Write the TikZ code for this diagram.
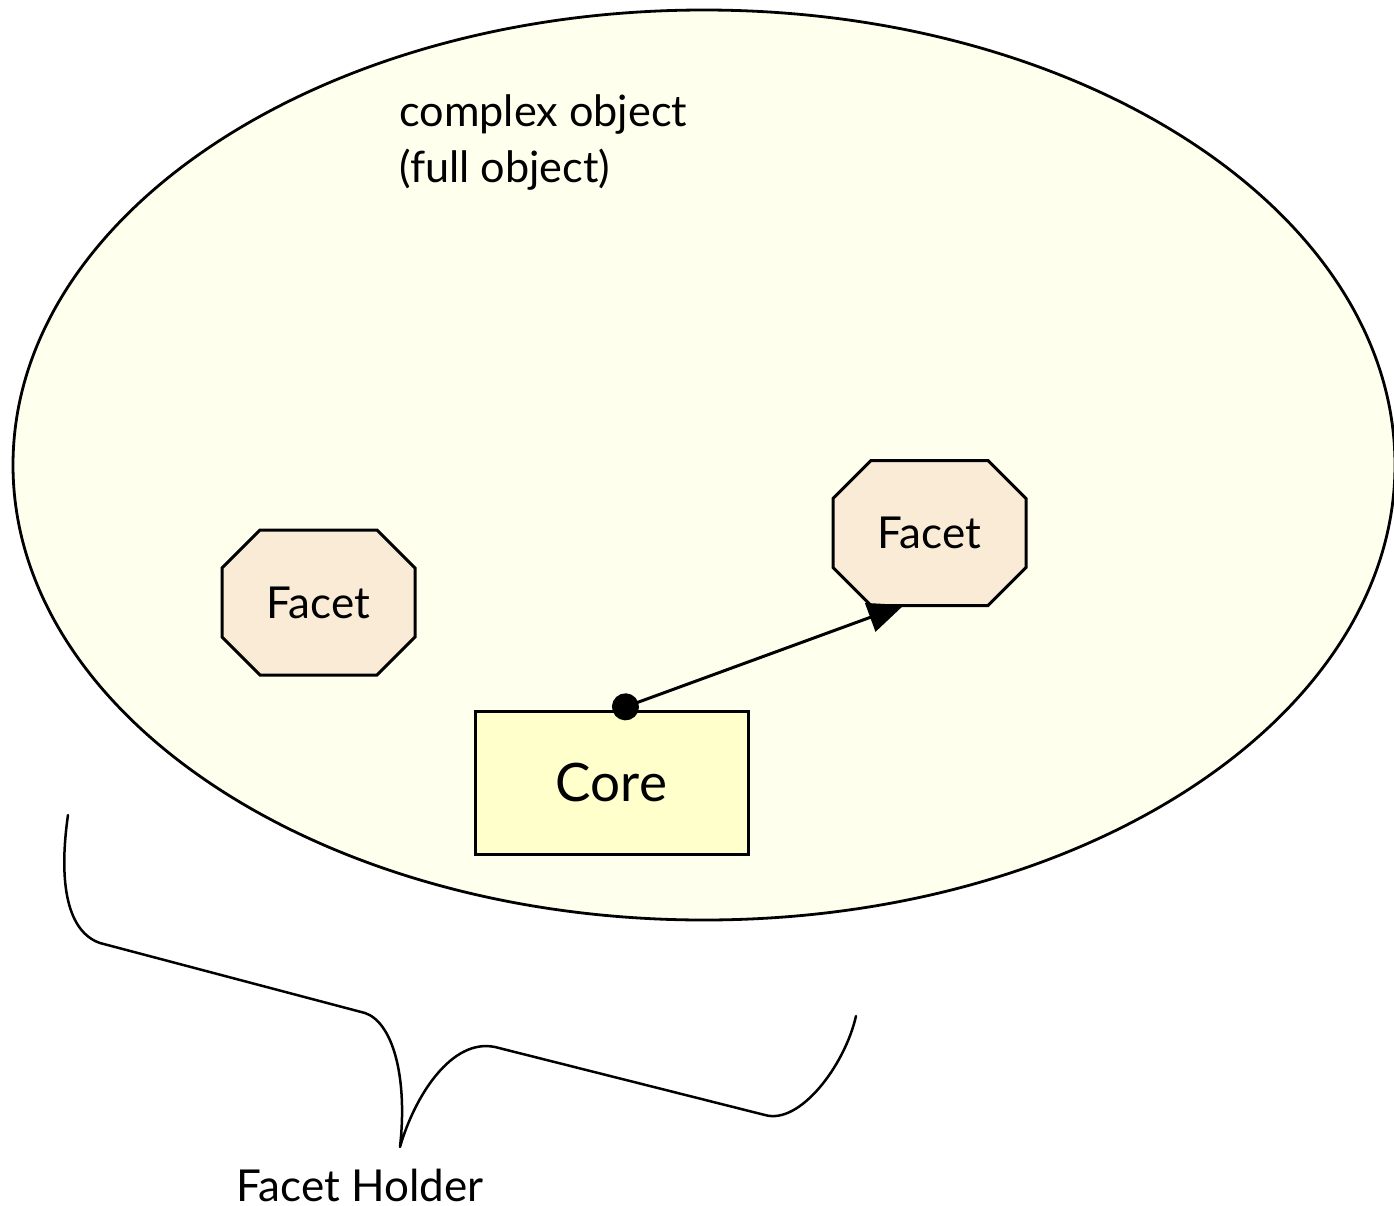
\documentclass[tikz,border=0pt]{standalone}
\usepackage{fontspec}
\setmainfont{Lato}
\usetikzlibrary{shapes.misc,shapes.geometric,arrows.meta}
\definecolor{ellfill}{HTML}{FFFFEE}
\definecolor{corefill}{HTML}{FFFFCC}
\definecolor{facetfill}{HTML}{FAEBD7}
\tikzset{
  facetbox/.style={chamfered rectangle, chamfered rectangle corners={north west,north east,south west,south east},
    chamfered rectangle xsep=11pt, chamfered rectangle ysep=11pt,
    draw=black, line width=1.5pt, fill=facetfill, minimum width=96.5pt, minimum height=72.5pt,
    inner sep=0pt, font=\fontsize{22}{26}\selectfont},
  corebox/.style={rectangle, draw=black, line width=1.5pt, fill=corefill, minimum width=136.5pt,
    minimum height=71.5pt, inner sep=0pt, font=\fontsize{26.5}{32}\selectfont},
  labeltext/.style={inner sep=0pt, font=\fontsize{21.6}{28}\selectfont, align=left},
  conn/.style={line width=1.5pt},
  bracepath/.style={line width=1.25pt, line cap=round, line join=round}
}
\begin{document}
\begin{tikzpicture}[x=0.5pt,y=-0.5pt]
\useasboundingbox (0,0) rectangle (1394,1206);
\node[ellipse, draw=black, line width=1.4pt, fill=ellfill, minimum width=691pt, minimum height=455pt, inner sep=0pt] (obj) at (704,465) {};
\node[labeltext, anchor=north west] (lbl) at (399,94) {complex object\\(full object)};
\node[facetbox] (f1) at (318.5,602.5) {Facet};
\node[facetbox] (f2) at (929.5,533) {Facet};
\node[corebox] (core) at (611.5,782.5) {Core};
\coordinate (dot) at (625,707);
\coordinate (tip) at (904,605);
\draw[conn, {Circle[length=13.5pt,width=13.5pt]}-{Triangle[length=18pt,width=15pt]}, shorten <=-6.5pt] (dot) -- (tip);
\draw[bracepath] (68,815) .. controls (58,885) and (68,932) .. (100,943)
  -- (365,1013) .. controls (392,1022) and (408,1075) .. (400,1147)
  .. controls (415,1095) and (452,1038) .. (495,1047)
  -- (765,1115) .. controls (800,1125) and (845,1065) .. (856,1016);
\node[labeltext, font=\fontsize{22}{26}\selectfont] (holder) at (360,1185) {Facet Holder};
\end{tikzpicture}
\end{document}
